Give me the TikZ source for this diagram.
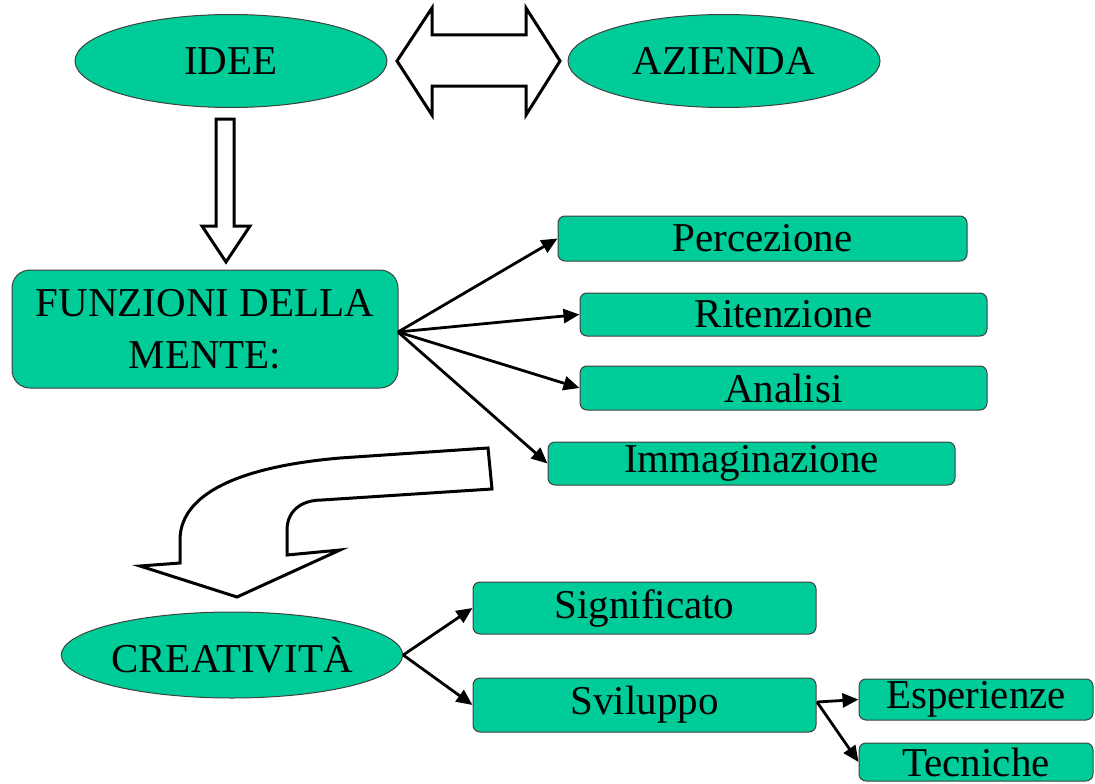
\documentclass[tikz,border=0pt]{standalone}
\usepackage{fontspec}
\setmainfont{Liberation Serif}
\usetikzlibrary{arrows.meta,shapes.geometric}
\definecolor{teal}{RGB}{0,204,153}
\tikzset{
  oval/.style={ellipse, fill=teal, draw=black!75, line width=1pt, inner sep=0pt,
    font=\fontsize{41}{48}\selectfont},
  tag/.style={rectangle, rounded corners=7pt, fill=teal, draw=black!75, line width=1pt,
    inner sep=0pt, font=\fontsize{41}{48}\selectfont},
  link/.style={line width=2.8pt, -{Triangle[length=16pt,width=14pt]}},
  hollow/.style={draw=black, line width=3pt, fill=white, line join=miter}
}
\begin{document}
\begin{tikzpicture}[x=1pt,y=-1pt]
\useasboundingbox (0,0) rectangle (1095,784);

% top row
\node[oval, minimum width=312pt, minimum height=93pt] (idee) at (231,61) {IDEE};
\node[oval, minimum width=312pt, minimum height=93pt] (azienda) at (724,61) {AZIENDA};

% two-headed block arrow between the ovals
\draw[hollow] (397,61) -- (432,8) -- (432,35) -- (526,35) -- (526,8) -- (560,61)
  -- (526,115) -- (526,86) -- (432,86) -- (432,115) -- cycle;

% block arrow pointing down
\draw[hollow] (216,119) -- (234,119) -- (234,226) -- (250,226) -- (226,262)
  -- (202,226) -- (216,226) -- cycle;

% functions of the mind
\node[tag, rounded corners=18pt, minimum width=386pt, minimum height=118pt,
  align=center, font=\fontsize{41}{52}\selectfont] (mente) at (205,329)
  {FUNZIONI DELLA\\MENTE:};

\node[tag, minimum width=409pt, minimum height=45pt] (perc) at (762.5,238.5) {Percezione};
\node[tag, minimum width=407pt, minimum height=43pt] (rit) at (783.5,314.5) {Ritenzione};
\node[tag, minimum width=407pt, minimum height=44pt] (ana) at (783.5,388) {Analisi};
\node[tag, minimum width=407pt, minimum height=43pt] (imm) at (751.5,463.5) {Immaginazione};

\coordinate (mo) at (398,332);
\draw[link] (mo) -- (perc.west);
\draw[link] (mo) -- (rit.west);
\draw[link] (mo) -- (ana.west);
\draw[link] (mo) -- (imm.west);

% curved block arrow
\draw[hollow] (488,448) -- (340,458) .. controls (225,468) and (180,500) .. (180,540)
  -- (180,563) -- (140,566) -- (237,597) -- (340,550) -- (287,555) -- (287,530)
  .. controls (287,512) and (300,500) .. (322,500) -- (492,489) -- cycle;

% creativity
\node[oval, minimum width=334pt, minimum height=86pt] (crea) at (232,655) {CREATIVITÀ};
\node[tag, minimum width=343pt, minimum height=52pt] (sig) at (644.5,608) {Significato};
\node[tag, minimum width=343pt, minimum height=54pt] (svi) at (644.5,705) {Sviluppo};
\draw[link] (crea.east) -- (sig.west);
\draw[link] (crea.east) -- (svi.west);

\node[tag, minimum width=234pt, minimum height=41pt] (esp) at (976,699.5) {Esperienze};
\node[tag, minimum width=234pt, minimum height=38pt] (tec) at (976,762) {Tecniche};
\coordinate (so) at (817,702);
\draw[link] (so) -- (esp.west);
\draw[link] (so) -- (tec.west);
\end{tikzpicture}
\end{document}
